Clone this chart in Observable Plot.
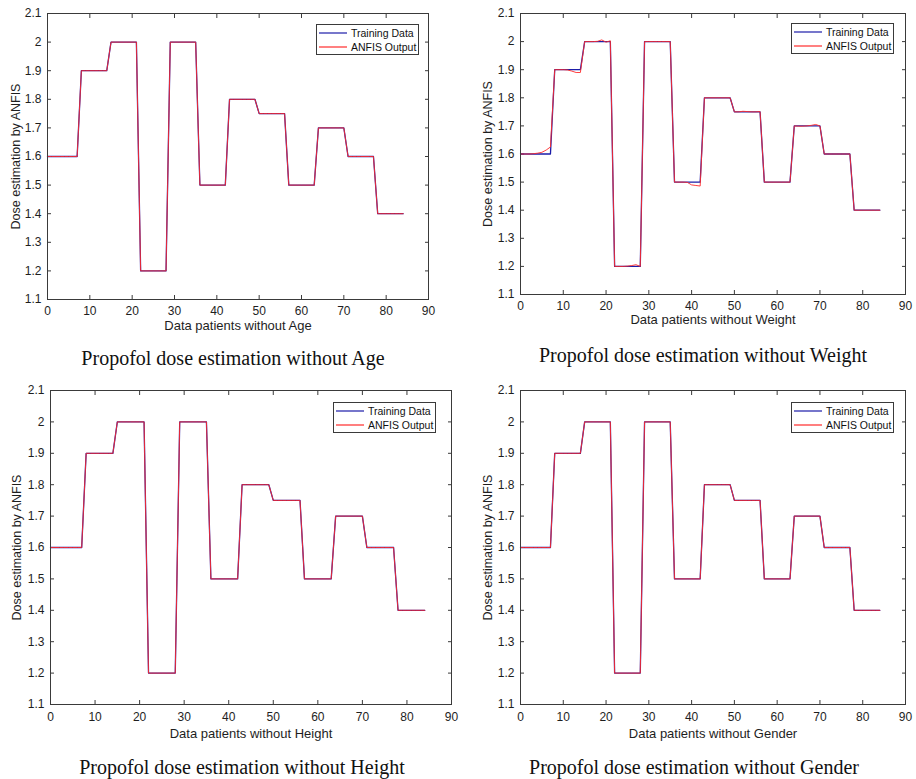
<!DOCTYPE html>
<html><head><meta charset="utf-8">
<script src="https://cdn.jsdelivr.net/npm/d3@7"></script>
<script src="https://cdn.jsdelivr.net/npm/@observablehq/plot@0.6"></script>
<style>
body{margin:0;background:#fff;}
#wrap{position:relative;width:916px;height:779px;overflow:hidden;background:#fff;}
.panel{position:absolute;}
.caption{position:absolute;font-family:"Liberation Serif","Times New Roman",serif;font-size:20px;color:#111;white-space:nowrap;transform:translate(-50%,-50%);}
.legend{position:absolute;width:103px;height:31px;border:1px solid #3a3a3a;background:#fff;font-family:"Liberation Sans",Arial,sans-serif;font-size:10.5px;color:#111;box-sizing:border-box;}
.legend .row{position:absolute;left:2px;height:12px;display:flex;align-items:center;}
.legend .row svg{margin-right:4px;}
</style></head><body><div id="wrap"></div><script>
// ---- data ----
const patientIndex = [0,1,2,3,4,5,6,7,8,9,10,11,12,13,14,15,16,17,18,19,20,21,22,23,24,25,26,27,28,29,30,31,32,33,34,35,36,37,38,39,40,41,42,43,44,45,46,47,48,49,50,51,52,53,54,55,56,57,58,59,60,61,62,63,64,65,66,67,68,69,70,71,72,73,74,75,76,77,78,79,80,81,82,83,84];
const trainingData = [
 1.6,1.6,1.6,1.6,1.6,1.6,1.6,1.6,
 1.9,1.9,1.9,1.9,1.9,1.9,1.9,
 2.0,2.0,2.0,2.0,2.0,2.0,2.0,
 1.2,1.2,1.2,1.2,1.2,1.2,1.2,
 2.0,2.0,2.0,2.0,2.0,2.0,2.0,
 1.5,1.5,1.5,1.5,1.5,1.5,1.5,
 1.8,1.8,1.8,1.8,1.8,1.8,1.8,
 1.75,1.75,1.75,1.75,1.75,1.75,1.75,
 1.5,1.5,1.5,1.5,1.5,1.5,1.5,
 1.7,1.7,1.7,1.7,1.7,1.7,1.7,
 1.6,1.6,1.6,1.6,1.6,1.6,1.6,
 1.4,1.4,1.4,1.4,1.4,1.4,1.4];
const anfisWithoutAge = [
 1.6,1.6,1.6,1.6,1.6,1.6,1.6,1.6,
 1.9,1.9,1.9,1.9,1.9,1.9,1.9,
 2.0,2.0,2.0,2.0,2.0,2.0,2.0,
 1.2,1.2,1.2,1.2,1.2,1.2,1.2,
 2.0,2.0,2.0,2.0,2.0,2.0,2.0,
 1.5,1.5,1.5,1.5,1.5,1.5,1.5,
 1.8,1.8,1.8,1.8,1.8,1.8,1.8,
 1.75,1.75,1.75,1.75,1.75,1.75,1.75,
 1.5,1.5,1.5,1.5,1.5,1.5,1.5,
 1.7,1.7,1.7,1.7,1.7,1.7,1.7,
 1.6,1.6,1.6,1.6,1.6,1.6,1.6,
 1.4,1.4,1.4,1.4,1.4,1.4,1.4];
const anfisWithoutWeight = [
 1.6,1.6,1.6,1.601,1.603,1.606,1.614,1.625,
 1.9,1.9,1.9,1.899,1.895,1.89,1.89,
 2.0,2.0,2.0,2.001,2.006,1.998,2.003,
 1.2,1.2,1.2,1.201,1.203,1.206,1.2,
 2.0,2.0,2.0,2.0,2.0,2.0,2.0,
 1.5,1.5,1.5,1.499,1.49,1.488,1.486,
 1.8,1.8,1.8,1.8,1.8,1.8,1.8,
 1.75,1.75,1.752,1.751,1.75,1.75,1.751,
 1.5,1.5,1.5,1.5,1.5,1.5,1.5,
 1.7,1.699,1.699,1.7,1.702,1.705,1.7,
 1.6,1.6,1.6,1.6,1.6,1.6,1.6,
 1.4,1.4,1.4,1.4,1.4,1.4,1.4];
const anfisWithoutHeight = [
 1.6,1.6,1.6,1.6,1.6,1.6,1.6,1.6,
 1.9,1.9,1.9,1.9,1.9,1.9,1.9,
 2.0,2.0,2.0,2.0,2.0,2.0,2.0,
 1.2,1.2,1.2,1.2,1.2,1.2,1.2,
 2.0,2.0,2.0,2.0,2.0,2.0,2.0,
 1.5,1.5,1.5,1.5,1.5,1.5,1.5,
 1.8,1.8,1.8,1.8,1.8,1.8,1.8,
 1.75,1.75,1.75,1.75,1.75,1.75,1.75,
 1.5,1.5,1.5,1.5,1.5,1.5,1.5,
 1.7,1.7,1.7,1.7,1.7,1.7,1.7,
 1.6,1.6,1.6,1.6,1.6,1.6,1.6,
 1.4,1.4,1.4,1.4,1.4,1.4,1.4];
const anfisWithoutGender = [
 1.6,1.6,1.6,1.6,1.6,1.6,1.6,1.6,
 1.9,1.9,1.9,1.9,1.9,1.9,1.9,
 2.0,2.0,2.0,2.0,2.0,2.0,2.0,
 1.2,1.2,1.2,1.2,1.2,1.2,1.2,
 2.0,2.0,2.0,2.0,2.0,2.0,2.0,
 1.5,1.5,1.5,1.5,1.5,1.5,1.5,
 1.8,1.8,1.8,1.8,1.8,1.8,1.8,
 1.75,1.75,1.75,1.75,1.75,1.75,1.75,
 1.5,1.5,1.5,1.5,1.5,1.5,1.5,
 1.7,1.7,1.7,1.7,1.7,1.7,1.7,
 1.6,1.6,1.6,1.6,1.6,1.6,1.6,
 1.4,1.4,1.4,1.4,1.4,1.4,1.4];
const xTicks = [0,10,20,30,40,50,60,70,80,90];
const yTicks = [1.1,1.2,1.3,1.4,1.5,1.6,1.7,1.8,1.9,2.0,2.1];
const seriesNames = ["Training Data","ANFIS Output"];
const yAxisLabel = "Dose estimation by ANFIS";
const xAxisLabels = ["Data patients without Age","Data patients without Weight","Data patients without Height","Data patients without Gender"];
const captions = ["Propofol dose estimation without Age","Propofol dose estimation without Weight","Propofol dose estimation without Height","Propofol dose estimation without Gender"];

// ---- layout ----
const colors = {train:"#1c1ca8", anfis:"#ff2a2a", axis:"#3a3a3a", text:"#1e1e1e"};
const panels = [
 {left:0,top:0,width:460,height:345,mL:47,mR:32,mT:13,mB:46,xPad:7,titleDy:30,yDx:-32,anfis:anfisWithoutAge,capX:233,capY:358,legX:316,legY:24},
 {left:460,top:0,width:456,height:345,mL:60,mR:11,mT:13,mB:51,xPad:7,titleDy:29,yDx:-33,anfis:anfisWithoutWeight,capX:703,capY:355,legX:791,legY:23},
 {left:0,top:360,width:460,height:400,mL:50,mR:9,mT:30,mB:56,xPad:8,titleDy:33,yDx:-34,anfis:anfisWithoutHeight,capX:242,capY:767,legX:333,legY:402},
 {left:460,top:360,width:456,height:400,mL:60,mR:11,mT:30,mB:56,xPad:8,titleDy:33,yDx:-33,anfis:anfisWithoutGender,capX:694,capY:767,legX:791,legY:402}
];

const wrap = document.getElementById("wrap");
const fmt = d3.format("~g");

panels.forEach((p, i) => {
  const trainRows = patientIndex.map((x, k) => ({x, y: trainingData[k]}));
  const anfisRows = patientIndex.map((x, k) => ({x, y: p.anfis[k]}));
  const chart = Plot.plot({
    width: p.width, height: p.height,
    marginLeft: p.mL, marginRight: p.mR, marginTop: p.mT, marginBottom: p.mB,
    style: {fontFamily: '"Liberation Sans", Arial, sans-serif', fontSize: "12px", color: colors.text, background: "transparent"},
    x: {domain: [0, 90]},
    y: {domain: [1.1, 2.1]},
    marks: [
      Plot.axisX({anchor: "bottom", ticks: xTicks, tickSize: 4, dy: -4, tickPadding: p.xPad, tickFormat: fmt, label: null, stroke: colors.axis, fill: colors.text}),
      Plot.axisX({anchor: "top", ticks: xTicks, tickSize: 4, dy: 4, tickFormat: () => "", label: null, stroke: colors.axis}),
      Plot.axisY({anchor: "left", ticks: yTicks, tickSize: 4, dx: 4, tickPadding: 6, tickFormat: fmt, label: null, stroke: colors.axis, fill: colors.text}),
      Plot.axisY({anchor: "right", ticks: yTicks, tickSize: 4, dx: -4, tickFormat: () => "", label: null, stroke: colors.axis}),
      Plot.line(trainRows, {x: "x", y: "y", stroke: colors.train, strokeWidth: 1.3}),
      Plot.line(anfisRows, {x: "x", y: "y", stroke: colors.anfis, strokeWidth: 1, strokeOpacity: 0.9}),
      Plot.frame({stroke: colors.axis, strokeWidth: 1}),
      Plot.text([xAxisLabels[i]], {text: d => d, frameAnchor: "bottom", textAnchor: "middle", dy: p.titleDy, fontSize: 13, fill: colors.text}),
      Plot.text([yAxisLabel], {text: d => d, frameAnchor: "left", textAnchor: "middle", rotate: -90, dx: p.yDx, fontSize: 12.5, fill: colors.text})
    ]
  });
  chart.classList.add("panel");
  chart.style.left = p.left + "px";
  chart.style.top = p.top + "px";
  wrap.appendChild(chart);

  const leg = document.createElement("div");
  leg.className = "legend";
  leg.style.left = p.legX + "px";
  leg.style.top = p.legY + "px";
  [colors.train, colors.anfis].forEach((c, j) => {
    const row = document.createElement("div");
    row.className = "row";
    row.style.top = (j === 0 ? 2 : 16) + "px";
    row.innerHTML = `<svg width="28" height="4"><line x1="0" x2="28" y1="2" y2="2" stroke="${c}" stroke-width="1.2"/></svg><span>${seriesNames[j]}</span>`;
    leg.appendChild(row);
  });
  wrap.appendChild(leg);

  const cap = document.createElement("div");
  cap.className = "caption";
  cap.style.left = p.capX + "px";
  cap.style.top = p.capY + "px";
  cap.textContent = captions[i];
  wrap.appendChild(cap);
});
</script></body></html>
